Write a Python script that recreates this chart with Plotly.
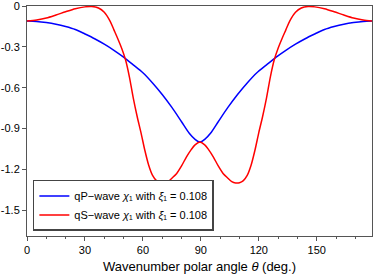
import plotly.graph_objects as go

# Wavenumber polar angle (deg.)
theta_p = [0, 5, 10, 15, 20, 25, 30, 35, 40, 45, 50, 55, 60, 65, 70, 75, 80, 84, 87, 89.5,
           92, 95, 99, 104, 109, 114, 119, 124, 129, 134, 139, 144, 149, 154, 159, 164, 169, 174, 179]
chi_qp = [-0.110, -0.113, -0.121, -0.133, -0.150, -0.172, -0.205, -0.240, -0.280, -0.325,
          -0.375, -0.432, -0.490, -0.565, -0.650, -0.745, -0.850, -0.935, -0.980, -1.000,
          -0.980, -0.935, -0.850, -0.745, -0.650, -0.565, -0.490, -0.432, -0.375, -0.325,
          -0.280, -0.240, -0.205, -0.172, -0.150, -0.133, -0.121, -0.113, -0.110]

theta_s = [0, 5, 10, 15, 20, 25, 30, 33.5, 37, 40, 43, 45, 47, 49, 51, 53, 55, 57, 59, 61,
           63, 65, 67, 69, 71, 73, 75, 77.5, 80, 82.5, 85, 87, 89.5,
           92, 94, 96.5, 99, 101.5, 104, 106, 108, 110, 112, 114, 116, 118, 120, 122, 124,
           126, 128, 130, 132, 134, 136, 139, 142, 145.5, 149, 154, 159, 164, 169, 174, 179]
chi_qs = [-0.110, -0.102, -0.088, -0.066, -0.042, -0.020, -0.006, -0.003, -0.014, -0.045,
          -0.110, -0.175, -0.240, -0.310, -0.395, -0.520, -0.675, -0.810, -0.930, -1.060,
          -1.170, -1.245, -1.283, -1.298, -1.300, -1.290, -1.265, -1.230, -1.175, -1.110,
          -1.055, -1.020, -1.000,
          -1.020, -1.055, -1.110, -1.175, -1.230, -1.265, -1.290, -1.300, -1.298, -1.283,
          -1.245, -1.170, -1.060, -0.930, -0.810, -0.675, -0.520, -0.395, -0.310, -0.240,
          -0.175, -0.110, -0.045, -0.014, -0.003, -0.006, -0.020, -0.042, -0.066, -0.088,
          -0.102, -0.110]

x_ticks = [0, 30, 60, 90, 120, 150]
y_ticks = [0, -0.3, -0.6, -0.9, -1.2, -1.5]
y_labels = ["0", "-0.3", "-0.6", "-0.9", "-1.2", "-1.5"]

name_p = "qP\u2212wave <i>\u03c7</i>\u2081 with <i>\u03be</i>\u2081 = 0.108"
name_s = "qS\u2212wave <i>\u03c7</i>\u2081 with <i>\u03be</i>\u2081 = 0.108"

fig = go.Figure()
fig.add_trace(go.Scatter(x=theta_p, y=chi_qp, mode="lines", name=name_p,
                         line=dict(color="#0000ff", width=1.5, shape="spline", smoothing=0.8)))
fig.add_trace(go.Scatter(x=theta_s, y=chi_qs, mode="lines", name=name_s,
                         line=dict(color="#ff0000", width=1.5, shape="spline", smoothing=0.8)))

FONT = "Liberation Sans, Arial, sans-serif"
axis_font = dict(family=FONT, size=11, color="#000")

fig.update_layout(
    width=374, height=274,
    margin=dict(l=27, r=2, t=6, b=38, autoexpand=False),
    paper_bgcolor="white", plot_bgcolor="white",
    font=axis_font,
    showlegend=True,
    legend=dict(x=0.017, y=0.022, xanchor="left", yanchor="bottom",
                bgcolor="white", bordercolor="#444", borderwidth=1.5,
                font=dict(family=FONT, size=11, color="#000"),
                itemwidth=30, tracegroupgap=0),
    xaxis=dict(range=[0, 178.6], tickmode="array", tickvals=x_ticks,
               ticktext=[str(v) for v in x_ticks],
               ticks="outside", ticklen=4, tickcolor="#555",
               minor=dict(dtick=10, ticks="outside", ticklen=2, tickcolor="#555"),
               showline=True, linecolor="#555", linewidth=1, mirror=True,
               showgrid=False, zeroline=False, automargin=False,
               ticklabeloverflow="allow",
               title=dict(text="Wavenumber polar angle <i>\u03b8</i> (deg.)",
                          font=dict(family=FONT, size=13)),
               tickfont=axis_font),
    yaxis=dict(range=[-1.69, 0.0005], tickmode="array", tickvals=y_ticks, ticktext=y_labels,
               ticks="outside", ticklen=4, tickcolor="#555",
               showline=True, linecolor="#555", linewidth=1, mirror=True,
               showgrid=False, zeroline=False, automargin=False,
               ticklabeloverflow="allow", tickfont=axis_font),
)

fig.write_html("out.html", config={"displayModeBar": False},
               post_script="document.body.style.margin='0px';")
